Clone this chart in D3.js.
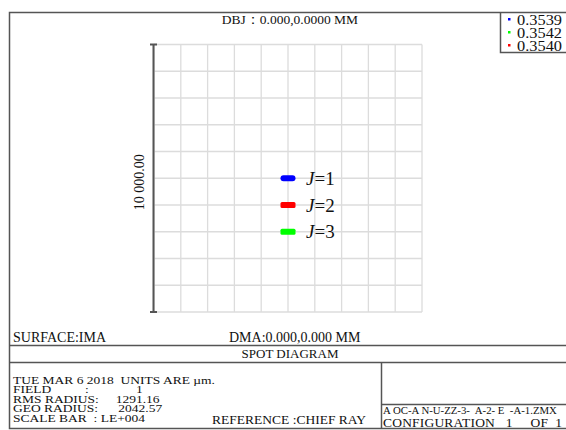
<!DOCTYPE html>
<html><head><meta charset="utf-8">
<script src="https://cdn.jsdelivr.net/npm/d3@7"></script>
<style>
html,body{margin:0;padding:0;background:#fff;}
svg text{font-family:"Liberation Serif","Times New Roman",serif;fill:#111;}
</style></head>
<body>
<script>
// ---- data ----
const titleText = "DBJ：0.000,0.0000 MM";
const wavelengths = ["0.3539", "0.3542", "0.3540"];
const wavelengthColors = ["#0000ff", "#00ff00", "#ff0000"];
const spotLabels = ["1", "2", "3"];
const spotX = [0, 0, 0];            // µm
const spotY = [0, -1000, -2000];    // µm
const spotW = [560, 560, 560];      // µm
const spotH = [220, 220, 220];      // µm
const spotColors = ["#0000ff", "#ff0000", "#00ff00"];
const gridTicks = [-5000, -4000, -3000, -2000, -1000, 0, 1000, 2000, 3000, 4000, 5000];
const scaleLabel = "10 000.00";
const infoLines = ["TUE MAR 6 2018  UNITS ARE µm.", "FIELD          :              1", "RMS RADIUS:     1291.16", "GEO RADIUS:      2042.57", "SCALE BAR  : LE+004"];

const W = 566, H = 430;
const svg = d3.select("body").append("svg").attr("width", W).attr("height", H);

const x = d3.scaleLinear().domain([-5000, 5000]).range([154, 422]);
const y = d3.scaleLinear().domain([-5000, 5000]).range([312, 44.5]);

const frameColor = "#555";
// outer frame
svg.append("path").attr("d", "M570,12.5 H9.5 V428.5 H570").attr("fill", "none").attr("stroke", frameColor).attr("stroke-width", 1.5);

// title
svg.append("text").attr("x", 290).attr("y", 24).attr("text-anchor", "middle").attr("font-size", 13.5).text(titleText);

// legend box
svg.append("path").attr("d", "M500.5,12.5 V52.5 H570").attr("fill", "none").attr("stroke", frameColor).attr("stroke-width", 1.5);
const lg = svg.append("g");
wavelengths.forEach((w, i) => {
  lg.append("rect").attr("x", 508).attr("y", 18 + i * 13).attr("width", 2.5).attr("height", 2.5).attr("fill", wavelengthColors[i]);
  lg.append("text").attr("x", 517).attr("y", 24.5 + i * 13).attr("font-size", 14)
    .attr("textLength", 45).attr("lengthAdjust", "spacingAndGlyphs").text(w);
});

// grid
const grid = svg.append("g").attr("stroke", "#dcdcdc").attr("stroke-width", 1.3);
grid.selectAll("line.v").data(gridTicks).join("line")
  .attr("x1", d => x(d)).attr("x2", d => x(d)).attr("y1", y(-5000)).attr("y2", y(5000));
grid.selectAll("line.h").data(gridTicks).join("line").attr("class", "h")
  .attr("y1", d => y(d)).attr("y2", d => y(d)).attr("x1", x(-5000)).attr("x2", x(5000));

// scale bar on left
const sb = svg.append("g").attr("stroke", "#555").attr("stroke-width", 2);
sb.append("line").attr("x1", x(-5000) - 0.5).attr("x2", x(-5000) - 0.5).attr("y1", y(5000)).attr("y2", y(-5000));
sb.append("line").attr("x1", x(-5000) - 4).attr("x2", x(-5000) + 3).attr("y1", y(5000)).attr("y2", y(5000));
sb.append("line").attr("x1", x(-5000) - 4).attr("x2", x(-5000) + 3).attr("y1", y(-5000)).attr("y2", y(-5000));
svg.append("text").attr("transform", `translate(144,${y(0) + 4}) rotate(-90)`).attr("text-anchor", "middle").attr("font-size", 14).text(scaleLabel);

// spots
const spots = spotX.map((v, i) => ({x: v, y: spotY[i], w: spotW[i], h: spotH[i], c: spotColors[i], l: spotLabels[i]}));
svg.selectAll("rect.spot").data(spots).join("rect").attr("class", "spot")
  .attr("x", d => x(d.x - d.w / 2)).attr("y", d => y(d.y + d.h / 2))
  .attr("width", d => x(d.w) - x(0)).attr("height", d => y(0) - y(d.h))
  .attr("rx", (d, i) => i === 0 ? 3 : 1.5).attr("fill", d => d.c);
const lab = svg.selectAll("text.lab").data(spots).join("text").attr("class", "lab")
  .attr("x", d => x(d.x) + 18).attr("y", d => y(d.y) + 6.5).attr("font-size", 19);
lab.append("tspan").attr("font-style", "italic").text("J");
lab.append("tspan").text(d => "=" + d.l);

// bottom area
const line = (x1, y1, x2, y2) => svg.append("line").attr("x1", x1).attr("y1", y1).attr("x2", x2).attr("y2", y2).attr("stroke", frameColor).attr("stroke-width", 1.5);
line(9.5, 345.5, 570, 345.5);
line(9.5, 362.5, 570, 362.5);
line(381.5, 362.5, 381.5, 428.5);
line(381.5, 404.5, 570, 404.5);

svg.append("text").attr("x", 13).attr("y", 342).attr("font-size", 14).text("SURFACE:IMA");
svg.append("text").attr("x", 229).attr("y", 342).attr("font-size", 14).text("DMA:0.000,0.000 MM");
svg.append("text").attr("x", 290).attr("y", 358).attr("text-anchor", "middle").attr("font-size", 13).text("SPOT DIAGRAM");

svg.selectAll("text.info").data(infoLines).join("text").attr("class", "info")
  .attr("transform", (d, i) => `translate(13,${383.5 + i * 9.6}) scale(1,0.8)`).attr("font-size", 13.5)
  .style("white-space", "pre").text(d => d);
svg.append("text").attr("x", 212).attr("y", 424).attr("font-size", 13.5).text("REFERENCE :CHIEF RAY");
svg.append("text").attr("x", 383).attr("y", 414).attr("font-size", 10.8).style("white-space", "pre")
  .text("A OC-A N-U-ZZ-3-  A-2- E  -A-1.ZMX");
svg.append("text").attr("x", 383).attr("y", 426.5).attr("font-size", 13.5).style("white-space", "pre")
  .attr("textLength", 179).attr("lengthAdjust", "spacing").text("CONFIGURATION   1     OF  1");
</script>
</body></html>
